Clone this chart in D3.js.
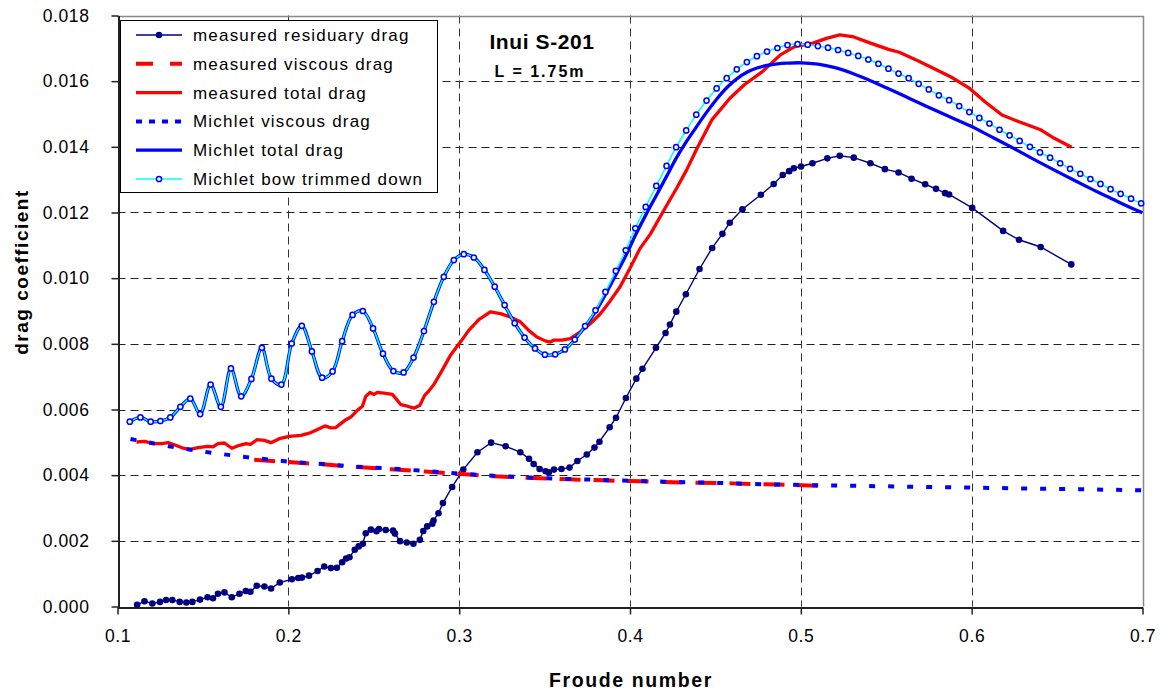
<!DOCTYPE html>
<html><head><meta charset="utf-8">
<script src="https://cdn.jsdelivr.net/npm/d3@7"></script>
<style>body{margin:0;background:#fff}</style>
</head><body>
<svg id="chart" width="1168" height="693"></svg>
<script>
// ---------- data (Froude number, drag coefficient) ----------
const xTicks = [0.1, 0.2, 0.3, 0.4, 0.5, 0.6, 0.7];
const yTicks = [0, 0.002, 0.004, 0.006, 0.008, 0.010, 0.012, 0.014, 0.016, 0.018];
const chartTitle = "Inui S-201";
const chartSubtitle = "L = 1.75m";
const xTitle = "Froude number";
const yTitle = "drag coefficient";
const seriesNames = ["measured residuary drag", "measured viscous drag", "measured total drag",
  "Michlet viscous drag", "Michlet total drag", "Michlet bow trimmed down"];

const measuredResiduary = [
[0.1115,0.00005],[0.1158,0.00016],[0.1204,0.00009],[0.1249,0.00014],[0.1284,0.00020],[0.1321,0.00020],
[0.1364,0.00014],[0.1403,0.00012],[0.1438,0.00014],[0.1483,0.00021],[0.1527,0.00028],[0.1559,0.00025],
[0.1588,0.00039],[0.1626,0.00043],[0.1669,0.00028],[0.1714,0.00039],[0.1751,0.00047],[0.1778,0.00045],
[0.1815,0.00063],[0.1860,0.00061],[0.1899,0.00055],[0.1950,0.00073],[0.2021,0.00083],[0.2058,0.00087],
[0.2080,0.00088],[0.2121,0.00094],[0.2171,0.00108],[0.2210,0.00122],[0.2249,0.00117],[0.2284,0.00118],
[0.2315,0.00135],[0.2338,0.00146],[0.2358,0.00150],[0.2389,0.00173],[0.2412,0.00183],[0.2436,0.00191],
[0.2453,0.00223],[0.2483,0.00234],[0.2516,0.00229],[0.2531,0.00236],[0.2570,0.00233],[0.2613,0.00231],
[0.2624,0.00222],[0.2654,0.00199],[0.2693,0.00195],[0.2732,0.00191],[0.2770,0.00203],[0.2790,0.00230],
[0.2813,0.00244],[0.2843,0.00252],[0.2850,0.00262],[0.2879,0.00284],[0.2905,0.00315],[0.2959,0.00364],
[0.3024,0.00417],[0.3107,0.00470],[0.3187,0.00499],[0.3272,0.00488],[0.3358,0.00470],[0.3409,0.00450],
[0.3436,0.00434],[0.3471,0.00419],[0.3506,0.00412],[0.3525,0.00409],[0.3555,0.00417],[0.3599,0.00419],
[0.3646,0.00423],[0.3692,0.00443],[0.3747,0.00463],[0.3792,0.00484],[0.3821,0.00502],[0.3881,0.00546],
[0.3918,0.00575],[0.3976,0.00635],[0.4037,0.00694],[0.4073,0.00724],[0.4152,0.00788],[0.4208,0.00833],
[0.4234,0.00859],[0.4271,0.00898],[0.4327,0.00951],[0.4407,0.01028],[0.4481,0.01092],[0.4541,0.01135],
[0.4584,0.01169],[0.4658,0.01210],[0.4766,0.01254],[0.4841,0.01287],[0.4894,0.01314],[0.4932,0.01326],
[0.4959,0.01335],[0.5001,0.01340],[0.5068,0.01350],[0.5155,0.01365],[0.5228,0.01373],[0.5310,0.01367],
[0.5407,0.01350],[0.5492,0.01332],[0.5572,0.01322],[0.5648,0.01303],[0.5728,0.01286],[0.5791,0.01272],
[0.5844,0.01259],[0.5868,0.01255],[0.6003,0.01214],[0.6184,0.01144],[0.6277,0.01117],[0.6404,0.01095],
[0.6583,0.01042]];

const measuredViscous = [
[0.180,0.00447],[0.200,0.00440],[0.220,0.00433],[0.240,0.00425],[0.260,0.00418],[0.280,0.00411],
[0.300,0.00404],[0.320,0.00397],[0.340,0.00392],[0.360,0.00388],[0.380,0.00385],[0.400,0.00382],
[0.420,0.00379],[0.440,0.00377],[0.460,0.00375],[0.480,0.00372],[0.500,0.00369],[0.510,0.00368]];

const measuredTotal = [
[0.1111,0.00501],[0.1159,0.00503],[0.1208,0.00496],[0.1257,0.00496],[0.1296,0.00499],[0.1325,0.00494],
[0.1374,0.00484],[0.1422,0.00478],[0.1471,0.00484],[0.1529,0.00488],[0.1559,0.00486],[0.1588,0.00496],
[0.1626,0.00498],[0.1669,0.00482],[0.1714,0.00491],[0.1753,0.00496],[0.1778,0.00494],[0.1817,0.00508],
[0.1860,0.00506],[0.1899,0.00499],[0.1947,0.00511],[0.2006,0.00518],[0.2074,0.00521],[0.2122,0.00528],
[0.2171,0.00539],[0.2214,0.00550],[0.2249,0.00544],[0.2278,0.00545],[0.2307,0.00557],[0.2337,0.00569],
[0.2366,0.00577],[0.2405,0.00598],[0.2434,0.00610],[0.2453,0.00640],[0.2478,0.00652],[0.2502,0.00646],
[0.2521,0.00652],[0.2560,0.00650],[0.2609,0.00646],[0.2658,0.00615],[0.2697,0.00610],[0.2735,0.00604],
[0.2770,0.00613],[0.2798,0.00643],[0.2823,0.00657],[0.2852,0.00676],[0.2901,0.00720],[0.2949,0.00765],
[0.3008,0.00806],[0.3056,0.00841],[0.3115,0.00874],[0.3183,0.00897],[0.3241,0.00892],[0.3300,0.00882],
[0.3358,0.00867],[0.3407,0.00841],[0.3455,0.00821],[0.3504,0.00809],[0.3533,0.00805],[0.3552,0.00811],
[0.3601,0.00811],[0.3650,0.00816],[0.3708,0.00836],[0.3767,0.00861],[0.3825,0.00891],[0.3883,0.00930],
[0.3942,0.00974],[0.4000,0.01030],[0.4058,0.01090],[0.4120,0.01135],[0.4205,0.01213],[0.4273,0.01274],
[0.4331,0.01329],[0.4392,0.01395],[0.4479,0.01482],[0.4585,0.01548],[0.4669,0.01589],[0.4775,0.01629],
[0.4880,0.01680],[0.4964,0.01705],[0.5070,0.01716],[0.5155,0.01731],[0.5228,0.01741],[0.5302,0.01736],
[0.5408,0.01716],[0.5513,0.01697],[0.5576,0.01688],[0.5682,0.01663],[0.5787,0.01636],[0.5882,0.01612],
[0.5988,0.01578],[0.6083,0.01535],[0.6178,0.01497],[0.6273,0.01477],[0.6400,0.01453],[0.6484,0.01426],
[0.6585,0.01399]];

const michletViscous = [
[0.1076,0.00510],[0.120,0.00498],[0.130,0.00488],[0.140,0.00480],[0.150,0.00472],[0.160,0.00465],
[0.175,0.00455],[0.190,0.00447],[0.200,0.00441],[0.220,0.00434],[0.240,0.00426],[0.260,0.00420],
[0.280,0.00413],[0.300,0.00405],[0.320,0.00398],[0.340,0.00393],[0.360,0.00389],[0.380,0.00386],
[0.400,0.00383],[0.420,0.00380],[0.440,0.00378],[0.460,0.00375],[0.480,0.00372],[0.500,0.00370],
[0.550,0.00366],[0.600,0.00362],[0.650,0.00358],[0.700,0.00354]];

const michletTotal = [
[0.1072,0.00563],[0.1134,0.00576],[0.1194,0.00563],[0.1251,0.00565],[0.1309,0.00576],[0.1368,0.00608],
[0.1426,0.00633],[0.1484,0.00586],[0.1545,0.00676],[0.1605,0.00608],[0.1664,0.00725],[0.1724,0.00640],
[0.1784,0.00693],[0.1845,0.00788],[0.1901,0.00694],[0.1959,0.00676],[0.2020,0.00801],[0.2079,0.00855],
[0.2138,0.00777],[0.2198,0.00697],[0.2259,0.00716],[0.2315,0.00808],[0.2376,0.00888],[0.2436,0.00900],
[0.2496,0.00847],[0.2554,0.00770],[0.2615,0.00717],[0.2675,0.00713],[0.2733,0.00758],[0.2794,0.00839],
[0.2852,0.00928],[0.2910,0.01004],[0.2969,0.01055],[0.3027,0.01073],[0.3086,0.01063],[0.3148,0.01025],
[0.3208,0.00974],[0.3266,0.00918],[0.3325,0.00863],[0.3383,0.00819],[0.3444,0.00786],[0.3502,0.00767],
[0.3562,0.00768],[0.3619,0.00783],[0.3677,0.00813],[0.3737,0.00853],[0.3798,0.00898],[0.3856,0.00950],
[0.3917,0.01010],[0.3975,0.01068],[0.4031,0.01130],[0.4092,0.01192],[0.4154,0.01252],[0.4214,0.01310],
[0.4270,0.01365],[0.4329,0.01415],[0.4388,0.01460],[0.4448,0.01505],[0.4507,0.01545],[0.4566,0.01580],
[0.4625,0.01607],[0.4684,0.01627],[0.4743,0.01640],[0.4802,0.01648],[0.4863,0.01653],[0.4922,0.01655],
[0.500,0.01656],[0.510,0.01652],[0.520,0.01641],[0.530,0.01624],[0.540,0.01603],[0.550,0.01580],
[0.560,0.01556],[0.570,0.01532],[0.580,0.01508],[0.590,0.01485],[0.600,0.01462],[0.610,0.01435],
[0.620,0.01408],[0.630,0.01380],[0.640,0.01352],[0.650,0.01325],[0.660,0.01298],[0.670,0.01272],
[0.680,0.01247],[0.690,0.01222],[0.700,0.01199]];

const michletBowTrimmed = [
[0.1072,0.00563],[0.1134,0.00576],[0.1194,0.00563],[0.1251,0.00565],[0.1309,0.00576],[0.1368,0.00608],
[0.1426,0.00633],[0.1484,0.00586],[0.1545,0.00676],[0.1605,0.00608],[0.1664,0.00725],[0.1724,0.00640],
[0.1784,0.00693],[0.1845,0.00788],[0.1901,0.00694],[0.1959,0.00676],[0.2020,0.00801],[0.2079,0.00855],
[0.2138,0.00777],[0.2198,0.00697],[0.2259,0.00716],[0.2315,0.00808],[0.2376,0.00888],[0.2436,0.00900],
[0.2496,0.00847],[0.2554,0.00770],[0.2615,0.00717],[0.2675,0.00713],[0.2733,0.00758],[0.2794,0.00839],
[0.2852,0.00928],[0.2910,0.01004],[0.2969,0.01055],[0.3027,0.01073],[0.3086,0.01063],[0.3148,0.01025],
[0.3208,0.00974],[0.3266,0.00918],[0.3325,0.00863],[0.3383,0.00819],[0.3444,0.00786],[0.3502,0.00767],
[0.3562,0.00768],[0.3619,0.00783],[0.3677,0.00813],[0.3737,0.00854],[0.3798,0.00902],[0.3856,0.00958],
[0.3917,0.01022],[0.3975,0.01085],[0.4031,0.01152],[0.4092,0.01217],[0.4154,0.01281],[0.4214,0.01342],
[0.4270,0.01399],[0.4329,0.01450],[0.4388,0.01498],[0.4448,0.01541],[0.4507,0.01578],[0.4566,0.01609],
[0.4625,0.01636],[0.4684,0.01658],[0.4743,0.01676],[0.4802,0.01690],[0.4863,0.01701],[0.4922,0.01710],
[0.4981,0.01713],[0.5040,0.01711],[0.5100,0.01707],[0.5159,0.01702],[0.5218,0.01695],[0.5277,0.01686],
[0.5336,0.01677],[0.5395,0.01666],[0.5454,0.01653],[0.5513,0.01638],[0.5572,0.01623],[0.5631,0.01609],
[0.5690,0.01592],[0.5749,0.01575],[0.5808,0.01557],[0.5868,0.01542],[0.5927,0.01524],[0.5986,0.01506],
[0.6045,0.01488],[0.6104,0.01471],[0.6163,0.01452],[0.6222,0.01435],[0.6281,0.01418],[0.6341,0.01400],
[0.6400,0.01383],[0.6459,0.01367],[0.6518,0.01350],[0.6576,0.01333],[0.6636,0.01318],[0.6695,0.01302],
[0.6754,0.01287],[0.6813,0.01271],[0.6872,0.01257],[0.6933,0.01242],[0.6992,0.01228]];

// ---------- drawing ----------
const FONT = '"Liberation Sans", Arial, Helvetica, sans-serif';
const svg = d3.select("#chart");
svg.append("rect").attr("width",1168).attr("height",693).attr("fill","#fff");

const x = d3.scaleLinear().domain([0.1, 0.7]).range([117.5, 1142.5]);
const y = d3.scaleLinear().domain([0, 0.018]).range([606.5, 15.5]);
const [x0, x1] = x.range(), [y0, y1] = y.range();
const crisp = v => Math.round(v) + 0.5;

// grid
const grid = svg.append("g");
grid.selectAll("line.h").data(yTicks.filter(v => v > 0 && v < 0.018)).join("line")
  .attr("x1", x0).attr("x2", x1)
  .attr("y1", d => crisp(y(d))).attr("y2", d => crisp(y(d)))
  .attr("stroke", "#222").attr("stroke-width", 1).attr("stroke-dasharray", "8,5");
grid.selectAll("line.v").data(xTicks.filter(v => v > 0.1 && v < 0.7)).join("line")
  .attr("y1", y1).attr("y2", y0)
  .attr("x1", d => crisp(x(d))).attr("x2", d => crisp(x(d)))
  .attr("stroke", "#333").attr("stroke-width", 1).attr("stroke-dasharray", "8,5");

// plot border (top / right)
svg.append("path").attr("d", `M${x0},${crisp(y1)}H${crisp(x1)}V${y0}`)
  .attr("fill","none").attr("stroke","#888").attr("stroke-width",1.5);

// axes
const yAxis = svg.append("g").attr("transform", `translate(${crisp(x0)},0)`)
  .call(d3.axisLeft(y).tickValues(yTicks).tickSize(7).tickSizeOuter(0).tickPadding(22)
        .tickFormat(d3.format(".3f")));
const xAxis = svg.append("g").attr("transform", `translate(0,${crisp(y0)})`)
  .call(d3.axisBottom(x).tickValues(xTicks).tickSize(7).tickSizeOuter(0).tickPadding(15)
        .tickFormat(d3.format(".1f")));
[yAxis, xAxis].forEach(a => {
  a.select(".domain").attr("stroke","#222").attr("stroke-width",2);
  a.selectAll(".tick line").attr("stroke","#222").attr("stroke-width",1.5);
  a.selectAll(".tick text").attr("font-family", FONT).attr("font-size", 17.5)
    .attr("letter-spacing", 0.6).attr("fill","#000");
});

// series
const line = d3.line().x(d => x(d[0])).y(d => y(d[1]));
const smooth = d3.line().x(d => x(d[0])).y(d => y(d[1])).curve(d3.curveCatmullRom.alpha(0.5));
const plot = svg.append("g");

plot.append("path").datum(measuredResiduary).attr("d", line)
  .attr("fill","none").attr("stroke","#000080").attr("stroke-width",1.4);
plot.selectAll("circle.res").data(measuredResiduary).join("circle")
  .attr("cx", d => x(d[0])).attr("cy", d => y(d[1])).attr("r", 3.3).attr("fill","#000080");

plot.append("path").datum(measuredViscous).attr("d", line)
  .attr("fill","none").attr("stroke","#FF0000").attr("stroke-width",4).attr("stroke-dasharray","21,13");

plot.append("path").datum(measuredTotal).attr("d", line)
  .attr("fill","none").attr("stroke","#FF0000").attr("stroke-width",3.3).attr("stroke-linejoin","round");

plot.append("path").datum(michletViscous).attr("d", line)
  .attr("fill","none").attr("stroke","#0000FF").attr("stroke-width",4).attr("stroke-dasharray","6,13");

plot.append("path").datum(michletTotal).attr("d", smooth)
  .attr("fill","none").attr("stroke","#0000FF").attr("stroke-width",3.3);

plot.append("path").datum(michletBowTrimmed).attr("d", smooth)
  .attr("fill","none").attr("stroke","#00FFFF").attr("stroke-width",1.5);
plot.selectAll("circle.trim").data(michletBowTrimmed).join("circle")
  .attr("cx", d => x(d[0])).attr("cy", d => y(d[1])).attr("r", 2.6)
  .attr("fill","#e8ffff").attr("stroke","#0000FF").attr("stroke-width",1.5);

// titles
svg.append("text").attr("x", 542).attr("y", 49).attr("text-anchor","middle")
  .attr("font-family", FONT).attr("font-weight","bold").attr("font-size", 21).attr("letter-spacing",0.6)
  .text(chartTitle);
svg.append("text").attr("x", 540).attr("y", 77).attr("text-anchor","middle")
  .attr("font-family", FONT).attr("font-weight","bold").attr("font-size", 16).attr("letter-spacing",2)
  .text(chartSubtitle);
svg.append("text").attr("x", 631).attr("y", 687).attr("text-anchor","middle")
  .attr("font-family", FONT).attr("font-weight","bold").attr("font-size", 19.5).attr("letter-spacing",1.6)
  .text(xTitle);
svg.append("text").attr("transform","translate(28,272) rotate(-90)").attr("text-anchor","middle")
  .attr("font-family", FONT).attr("font-weight","bold").attr("font-size", 19).attr("letter-spacing",1.5)
  .text(yTitle);

// legend
const lg = svg.append("g");
lg.append("rect").attr("x",120.5).attr("y",20.5).attr("width",317).attr("height",172)
  .attr("fill","#fff").attr("stroke","#000").attr("stroke-width",1);
const rowY = i => 35 + i * 28.8;
const styles = [
  {stroke:"#000080", w:1.4, dash:null, marker:"dot"},
  {stroke:"#FF0000", w:4, dash:"17,17"},
  {stroke:"#FF0000", w:3.3, dash:null},
  {stroke:"#0000FF", w:4, dash:"6,7"},
  {stroke:"#0000FF", w:3.3, dash:null},
  {stroke:"#00FFFF", w:1.5, dash:null, marker:"ring"}
];
seriesNames.forEach((name, i) => {
  const yy = rowY(i);
  const l = lg.append("line").attr("x1",136).attr("x2",182).attr("y1",yy).attr("y2",yy)
    .attr("stroke", styles[i].stroke).attr("stroke-width", styles[i].w);
  if (styles[i].dash) l.attr("stroke-dasharray", styles[i].dash);
  if (styles[i].marker === "dot")
    lg.append("circle").attr("cx",159).attr("cy",yy).attr("r",3.3).attr("fill","#000080");
  if (styles[i].marker === "ring")
    lg.append("circle").attr("cx",159).attr("cy",yy).attr("r",2.6).attr("fill","#e8ffff")
      .attr("stroke","#0000FF").attr("stroke-width",1.5);
  lg.append("text").attr("x",193).attr("y",yy+6).attr("font-family",FONT).attr("font-size",17)
    .attr("letter-spacing",1.2).text(name);
});
</script>
</body></html>
